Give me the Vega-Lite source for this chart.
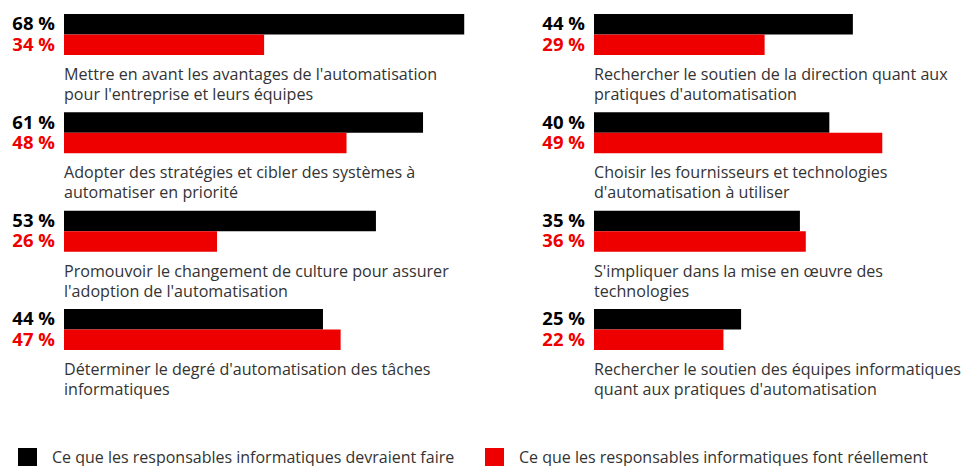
{
  "$schema": "https://vega.github.io/schema/vega-lite/v6.json",
  "padding": {"left": 12, "top": 14, "right": 0, "bottom": 0},
  "bounds": "flush",
  "spacing": 118,
  "background": "white",
  "config": {
    "view": {"stroke": null},
    "font": "Open Sans",
    "legend": {"padding": 0}
  },
  "datasets": {
    "bars": [
      {"panel": "L", "item": "Mettre en avant les avantages de l'automatisation\npour l'entreprise et leurs équipes", "series": "Ce que les responsables informatiques devraient faire", "value": 68},
      {"panel": "L", "item": "Mettre en avant les avantages de l'automatisation\npour l'entreprise et leurs équipes", "series": "Ce que les responsables informatiques font réellement", "value": 34},
      {"panel": "L", "item": "Adopter des stratégies et cibler des systèmes à\nautomatiser en priorité", "series": "Ce que les responsables informatiques devraient faire", "value": 61},
      {"panel": "L", "item": "Adopter des stratégies et cibler des systèmes à\nautomatiser en priorité", "series": "Ce que les responsables informatiques font réellement", "value": 48},
      {"panel": "L", "item": "Promouvoir le changement de culture pour assurer\nl'adoption de l'automatisation", "series": "Ce que les responsables informatiques devraient faire", "value": 53},
      {"panel": "L", "item": "Promouvoir le changement de culture pour assurer\nl'adoption de l'automatisation", "series": "Ce que les responsables informatiques font réellement", "value": 26},
      {"panel": "L", "item": "Déterminer le degré d'automatisation des tâches\ninformatiques", "series": "Ce que les responsables informatiques devraient faire", "value": 44},
      {"panel": "L", "item": "Déterminer le degré d'automatisation des tâches\ninformatiques", "series": "Ce que les responsables informatiques font réellement", "value": 47},
      {"panel": "R", "item": "Rechercher le soutien de la direction quant aux\npratiques d'automatisation", "series": "Ce que les responsables informatiques devraient faire", "value": 44},
      {"panel": "R", "item": "Rechercher le soutien de la direction quant aux\npratiques d'automatisation", "series": "Ce que les responsables informatiques font réellement", "value": 29},
      {"panel": "R", "item": "Choisir les fournisseurs et technologies\nd'automatisation à utiliser", "series": "Ce que les responsables informatiques devraient faire", "value": 40},
      {"panel": "R", "item": "Choisir les fournisseurs et technologies\nd'automatisation à utiliser", "series": "Ce que les responsables informatiques font réellement", "value": 49},
      {"panel": "R", "item": "S'impliquer dans la mise en œuvre des\ntechnologies", "series": "Ce que les responsables informatiques devraient faire", "value": 35},
      {"panel": "R", "item": "S'impliquer dans la mise en œuvre des\ntechnologies", "series": "Ce que les responsables informatiques font réellement", "value": 36},
      {"panel": "R", "item": "Rechercher le soutien des équipes informatiques\nquant aux pratiques d'automatisation", "series": "Ce que les responsables informatiques devraient faire", "value": 25},
      {"panel": "R", "item": "Rechercher le soutien des équipes informatiques\nquant aux pratiques d'automatisation", "series": "Ce que les responsables informatiques font réellement", "value": 22}
    ]
  },
  "hconcat": [
    {
      "width": 412,
      "height": 377,
      "data": {"name": "bars"},
      "transform": [
        {"filter": "datum.panel == 'L'"},
        {"calculate": "datum.value + ' %'", "as": "lbl"}
      ],
      "encoding": {
        "y": {"field": "item", "type": "nominal", "sort": null, "axis": null,
              "scale": {"paddingInner": 0.166, "paddingOuter": 0}},
        "x": {"type": "quantitative", "axis": null, "scale": {"domain": [0, 70]}}
      },
      "layer": [
        {
          "mark": {"type": "bar"},
          "encoding": {
            "x": {"field": "value", "type": "quantitative", "axis": null, "scale": {"domain": [0, 70]}},
            "yOffset": {"field": "series", "type": "nominal",
              "scale": {"domain": ["Ce que les responsables informatiques devraient faire", "Ce que les responsables informatiques font réellement", "_a", "_b"], "paddingInner": 0, "paddingOuter": 0}},
            "color": {"field": "series", "type": "nominal",
              "scale": {"domain": ["Ce que les responsables informatiques devraient faire", "Ce que les responsables informatiques font réellement"], "range": ["#000000", "#ee0000"]},
              "legend": {"title": null, "orient": "none", "legendX": -46, "legendY": 434, "direction": "horizontal",
                "symbolType": "square", "symbolSize": 361, "symbolStrokeWidth": 0, "labelFontSize": 16, "labelColor": "#333333",
                "labelOffset": 15, "columnPadding": 30, "labelLimit": 600, "labelFont": "Open Sans"}}
          }
        },
        {
          "mark": {"type": "text", "align": "right", "baseline": "middle", "dx": -9, "fontSize": 18.5, "fontWeight": "bold"},
          "encoding": {
            "x": {"datum": 0, "type": "quantitative"},
            "yOffset": {"field": "series", "type": "nominal",
              "scale": {"domain": ["Ce que les responsables informatiques devraient faire", "Ce que les responsables informatiques font réellement", "_a", "_b"], "paddingInner": 0, "paddingOuter": 0}},
            "text": {"field": "lbl"},
            "color": {"condition": {"test": "datum.series == 'Ce que les responsables informatiques font réellement'", "value": "#ee0000"}, "value": "#000000"}
          }
        },
        {
          "transform": [{"filter": "datum.series == 'Ce que les responsables informatiques devraient faire'"}],
          "mark": {"type": "text", "align": "left", "baseline": "alphabetic", "dy": 66, "fontSize": 16.1, "lineBreak": "\n", "lineHeight": 20, "color": "#333333"},
          "encoding": {
            "x": {"datum": 0, "type": "quantitative"},
            "y": {"field": "item", "type": "nominal", "sort": null, "bandPosition": 0},
            "text": {"field": "item"}
          }
        }
      ]
    },
    {
      "width": 353,
      "height": 377,
      "data": {"name": "bars"},
      "transform": [
        {"filter": "datum.panel == 'R'"},
        {"calculate": "datum.value + ' %'", "as": "lbl"}
      ],
      "encoding": {
        "y": {"field": "item", "type": "nominal", "sort": null, "axis": null,
              "scale": {"paddingInner": 0.166, "paddingOuter": 0}},
        "x": {"type": "quantitative", "axis": null, "scale": {"domain": [0, 60]}}
      },
      "layer": [
        {
          "mark": {"type": "bar"},
          "encoding": {
            "x": {"field": "value", "type": "quantitative", "axis": null, "scale": {"domain": [0, 60]}},
            "yOffset": {"field": "series", "type": "nominal",
              "scale": {"domain": ["Ce que les responsables informatiques devraient faire", "Ce que les responsables informatiques font réellement", "_a", "_b"], "paddingInner": 0, "paddingOuter": 0}},
            "color": {"field": "series", "type": "nominal"}
          }
        },
        {
          "mark": {"type": "text", "align": "right", "baseline": "middle", "dx": -9, "fontSize": 18.5, "fontWeight": "bold"},
          "encoding": {
            "x": {"datum": 0, "type": "quantitative"},
            "yOffset": {"field": "series", "type": "nominal",
              "scale": {"domain": ["Ce que les responsables informatiques devraient faire", "Ce que les responsables informatiques font réellement", "_a", "_b"], "paddingInner": 0, "paddingOuter": 0}},
            "text": {"field": "lbl"},
            "color": {"condition": {"test": "datum.series == 'Ce que les responsables informatiques font réellement'", "value": "#ee0000"}, "value": "#000000"}
          }
        },
        {
          "transform": [{"filter": "datum.series == 'Ce que les responsables informatiques devraient faire'"}],
          "mark": {"type": "text", "align": "left", "baseline": "alphabetic", "dy": 66, "fontSize": 16.1, "lineBreak": "\n", "lineHeight": 20, "color": "#333333"},
          "encoding": {
            "x": {"datum": 0, "type": "quantitative"},
            "y": {"field": "item", "type": "nominal", "sort": null, "bandPosition": 0},
            "text": {"field": "item"}
          }
        }
      ]
    }
  ]
}
